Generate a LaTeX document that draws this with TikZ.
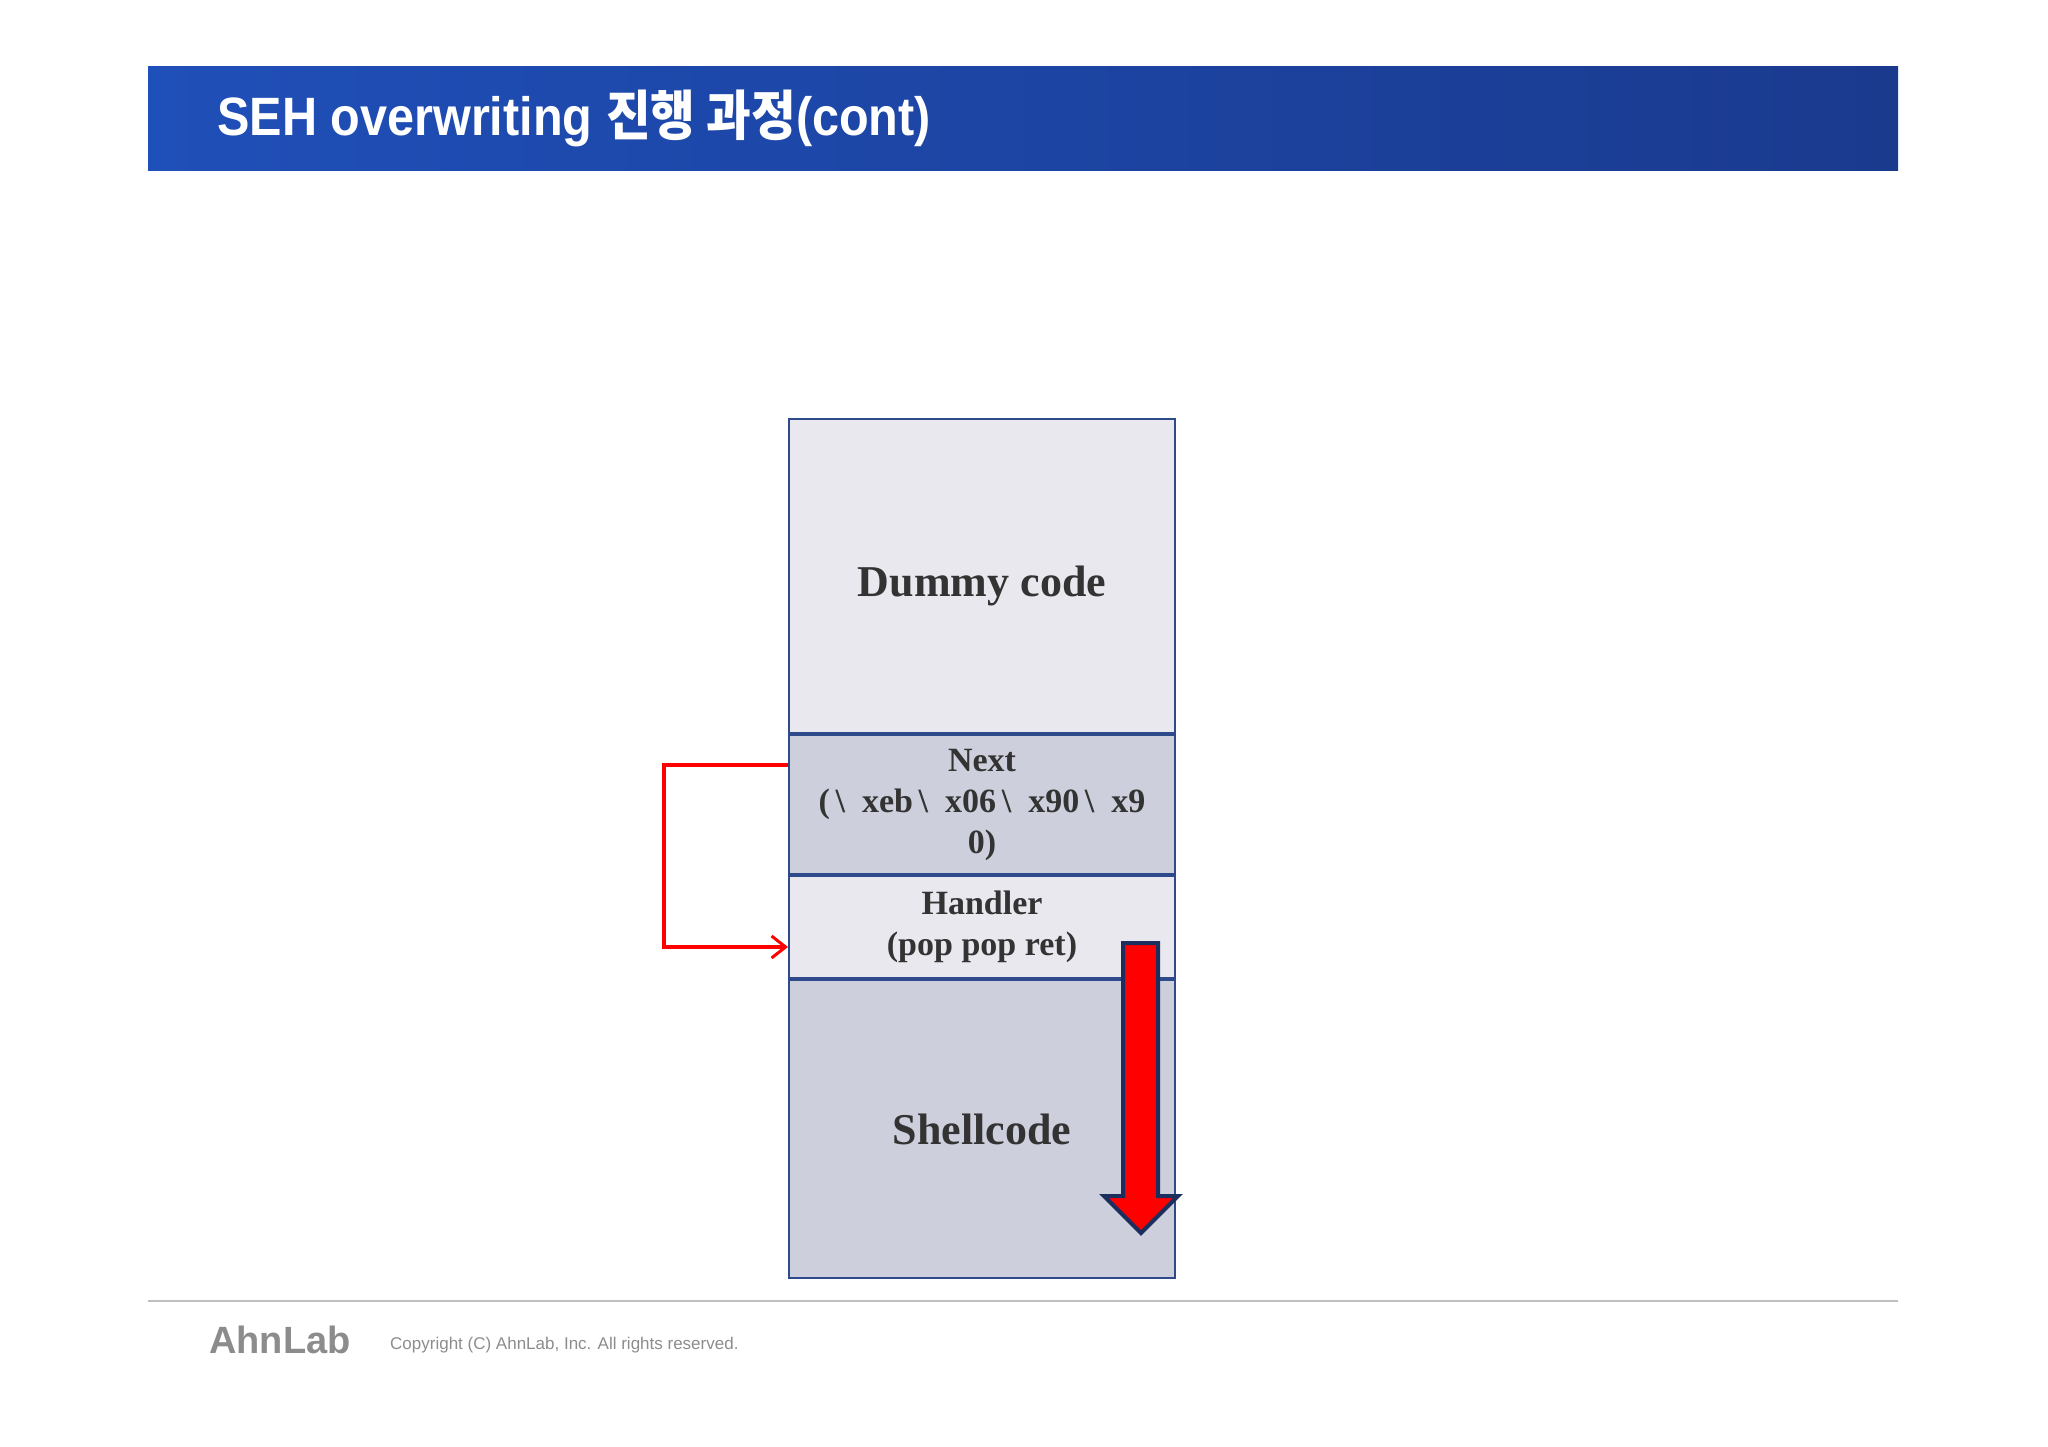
\documentclass[tikz,border=0pt]{standalone}
\usepackage{fontspec}
\setmainfont{Liberation Serif}
\newfontfamily\titlefont{Liberation Sans}
\newfontfamily\krfont{Noto Sans CJK KR}
\usetikzlibrary{positioning,arrows.meta}
\definecolor{light}{HTML}{E8E8EE}
\definecolor{mid}{HTML}{CDD0DC}
\definecolor{edgeblue}{HTML}{2F4A8A}
\definecolor{navy}{HTML}{1C2E5E}
\definecolor{bannerA}{HTML}{1F4FB8}
\definecolor{bannerB}{HTML}{1A3A8E}
\begin{document}
\begin{tikzpicture}[
    x=1pt, y=-1pt,
    cell/.style={
        draw=edgeblue,
        line width=2pt,
        minimum width=386pt,
        inner sep=0pt,
        align=center,
        text=black!80,
        font=\bfseries\fontsize{34}{41}\selectfont},
    jump/.style={
        -{Straight Barb[length=14pt,width=22pt,line width=3pt]},
        red,
        line width=3.5pt}
]
\useasboundingbox (0,0) rectangle (2048,1447);

% banner
\shade[left color=bannerA, right color=bannerB] (148,67) rectangle (1898,171);
\node[anchor=west,text=white,inner sep=0pt,xscale=0.9] (title) at (217,118)
    {\titlefont\bfseries\fontsize{54}{60}\selectfont SEH overwriting {\krfont 진행 과정}(cont)};

% stack
\node[cell,fill=light,minimum height=314pt,text depth=0pt,font=\bfseries\fontsize{44}{50}\selectfont] (dummy) at (982,576) {\raisebox{-10pt}{Dummy code}};
\node[cell,fill=mid,minimum height=139pt,below=0pt of dummy] (next)
    {Next\\(\,\textbackslash\ \ xeb\,\textbackslash\ \ x06\,\textbackslash\ \ x90\,\textbackslash\ \ x9\\0)};
\node[cell,fill=light,minimum height=102pt,below=0pt of next] (handler)
    {\raisebox{-5pt}{\parbox{380pt}{\centering Handler\\(pop pop ret)}}};
\node[cell,fill=mid,minimum height=298pt,below=0pt of handler,font=\bfseries\fontsize{44}{50}\selectfont] (shell) {Shellcode};

% jump from next to handler
\coordinate (na) at ([yshift=-31pt]next.north west);
\coordinate (ha) at ([yshift=-20pt]handler.west);
\draw[jump] (na) -- ++(-124,0) |- (ha);

% big arrow
\draw[navy,line width=4pt,fill=red,line join=miter]
    (1123,943) -- (1158,943) -- (1158,1196) -- (1178,1196) -- (1141,1233)
    -- (1104,1196) -- (1123,1196) -- cycle;

% footer
\draw[black!25,line width=1.5pt] (148,1301) -- (1898,1301);
\node[anchor=west,text=black!45,inner sep=0pt,font=\titlefont\bfseries\fontsize{38}{40}\selectfont] (logo) at (209,1340) {AhnLab};
\node[anchor=west,text=black!45,inner sep=0pt,font=\titlefont\fontsize{17}{20}\selectfont] (copy) at (390,1345) {Copyright (C) AhnLab, Inc. All rights reserved.};
\end{tikzpicture}
\end{document}
